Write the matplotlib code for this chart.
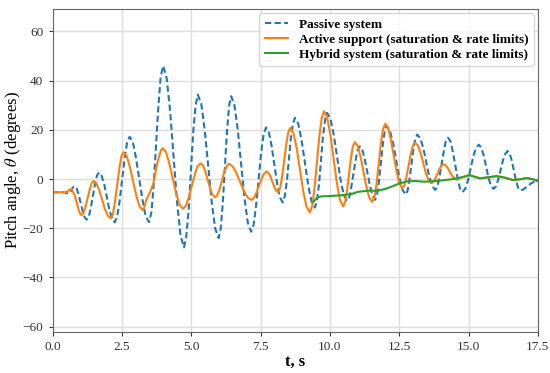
import matplotlib
matplotlib.use("Agg")
import matplotlib.pyplot as plt

plt.rcParams['font.family'] = ['Liberation Serif', 'DejaVu Serif']
plt.rcParams['mathtext.fontset'] = 'stix'

# passive system
t_passive = [0.00, 0.45, 0.57, 0.65, 0.72, 0.76, 0.80, 0.87, 0.94, 1.09, 1.16, 1.23,
             1.31, 1.38, 1.53, 1.60, 1.68, 1.77, 1.87, 2.05, 2.15, 2.24, 2.33, 2.42,
             2.60, 2.69, 2.78, 2.90, 3.01, 3.25, 3.36, 3.48, 3.57, 3.65, 3.82, 3.90,
             3.99, 4.115, 4.24, 4.49, 4.615, 4.74, 4.82, 4.91, 5.07, 5.16, 5.24, 5.365,
             5.49, 5.74, 5.865, 5.99, 6.065, 6.14, 6.29, 6.365, 6.44, 6.56, 6.68, 6.92,
             7.04, 7.16, 7.25, 7.34, 7.52, 7.61, 7.70, 7.80, 7.90, 8.10, 8.20, 8.30,
             8.37, 8.45, 8.59, 8.67, 8.74, 8.86, 8.98, 9.22, 9.34, 9.46, 9.53, 9.61,
             9.75, 9.83, 9.90, 10.02, 10.14, 10.38, 10.50, 10.62, 10.70, 10.77, 10.93, 11.00,
             11.08, 11.17, 11.26, 11.45, 11.54, 11.63, 11.70, 11.77, 11.91, 11.98, 12.05, 12.16,
             12.28, 12.50, 12.62, 12.73, 12.80, 12.87, 13.01, 13.08, 13.15, 13.26, 13.37, 13.58,
             13.69, 13.80, 13.88, 13.95, 14.11, 14.18, 14.26, 14.35, 14.43, 14.61, 14.69, 14.78,
             14.88, 14.98, 15.17, 15.27, 15.37, 15.46, 15.55, 15.72, 15.81, 15.90, 15.985, 16.07,
             16.24, 16.33, 16.41, 16.485, 16.56, 16.71, 16.785, 16.86, 16.96, 17.05, 17.25, 17.50]
y_passive = [-5.4, -5.4, -6.0, -5.2, -3.7, -3.1, -2.9, -3.8, -6.3, -13.1, -15.6, -16.5,
             -15.2, -11.7, -2.1, 1.4, 2.7, 1.3, -2.4, -12.5, -16.2, -17.6, -15.3, -8.9,
             8.5, 14.9, 17.2, 14.9, 8.5, -8.8, -15.2, -17.5, -13.3, -1.6, 30.1, 41.7,
             46.0, 41.1, 27.6, -9.4, -22.9, -27.8, -23.6, -12.3, 18.8, 30.1, 34.3, 30.4,
             19.7, -9.4, -20.1, -24.0, -20.1, -9.6, 19.3, 29.8, 33.7, 30.0, 19.9, -7.6,
             -17.7, -21.4, -18.6, -10.8, 10.4, 18.2, 21.0, 19.0, 13.4, -1.9, -7.5, -9.5,
             -7.2, -0.9, 16.3, 22.6, 24.9, 22.5, 15.8, -2.5, -9.2, -11.6, -9.0, -2.0,
             17.3, 24.3, 26.9, 24.5, 18.0, 0.0, -6.5, -8.9, -7.4, -3.4, 7.8, 11.8,
             13.3, 11.9, 7.9, -3.0, -6.9, -8.4, -6.4, -0.9, 14.2, 19.7, 21.7, 19.8,
             14.7, 0.7, -4.4, -6.3, -4.7, -0.2, 12.0, 16.5, 18.1, 16.6, 12.5, 1.2,
             -2.9, -4.4, -3.0, 0.9, 11.5, 15.4, 16.8, 15.3, 11.3, 0.2, -3.8, -5.3,
             -4.0, -0.5, 9.2, 12.7, 14.0, 12.8, 9.5, 0.5, -2.8, -4.0, -3.0, -0.2,
             7.6, 10.4, 11.4, 10.3, 7.4, -0.6, -3.5, -4.6, -4.3, -3.6, -1.8, -0.2]

# active support (saturation & rate limits)
t_active = [0.00, 0.50, 0.59, 0.68, 0.80, 0.93, 0.99, 1.05, 1.12, 1.19, 1.34, 1.41,
            1.48, 1.58, 1.69, 1.89, 2.00, 2.10, 2.18, 2.25, 2.41, 2.48, 2.56, 2.675,
            2.79, 3.02, 3.135, 3.25, 3.30, 3.38, 3.51, 3.63, 3.78, 3.90, 3.97, 4.09,
            4.21, 4.46, 4.58, 4.70, 4.81, 4.91, 5.13, 5.23, 5.34, 5.43, 5.51, 5.69,
            5.77, 5.86, 5.94, 6.03, 6.19, 6.28, 6.36, 6.495, 6.63, 6.90, 7.035, 7.17,
            7.26, 7.35, 7.54, 7.63, 7.72, 7.79, 7.86, 8.00, 8.07, 8.14, 8.21, 8.28,
            8.43, 8.50, 8.57, 8.69, 8.81, 9.04, 9.16, 9.28, 9.365, 9.45, 9.62, 9.705,
            9.79, 9.905, 10.02, 10.25, 10.365, 10.48, 10.55, 10.62, 10.76, 10.83, 10.90, 11.005,
            11.11, 11.32, 11.425, 11.53, 11.61, 11.69, 11.84, 11.92, 12.00, 12.10, 12.20, 12.41,
            12.51, 12.61, 12.69, 12.76, 12.92, 12.99, 13.07, 13.17, 13.27, 13.46, 13.56, 13.66,
            13.73, 13.81, 13.95, 14.03, 14.10, 14.175, 14.25, 14.40, 14.55, 14.85, 15.03, 15.2,
            15.41, 15.7, 16.01, 16.3, 16.61, 16.85, 17.1, 17.3, 17.5]
y_active = [-5.4, -5.3, -4.5, -3.9, -6.6, -12.0, -14.0, -14.7, -13.8, -11.2, -4.3, -1.7,
            -0.8, -1.8, -4.6, -12.2, -15.0, -16.0, -14.2, -9.3, 4.2, 9.1, 10.9, 9.3,
            5.0, -6.7, -11.0, -12.6, -11.8, -8.5, -5.5, -2.0, 6.5, 11.4, 12.6, 11.0,
            6.4, -5.9, -10.4, -12.1, -10.9, -7.5, 1.8, 5.2, 6.4, 5.5, 3.0, -4.0,
            -6.5, -7.4, -6.5, -4.0, 2.8, 5.3, 6.2, 5.2, 2.5, -4.8, -7.5, -8.5,
            -7.7, -5.6, 0.2, 2.3, 3.1, 2.5, 1.0, -3.3, -4.8, -5.4, -3.6, 1.2,
            14.3, 19.0, 20.8, 18.5, 12.2, -5.0, -11.3, -13.6, -10.8, -3.3, 17.3, 24.8,
            27.6, 25.0, 17.9, -1.4, -8.5, -11.1, -9.3, -4.6, 8.5, 13.3, 15.0, 13.4,
            8.9, -3.2, -7.7, -9.3, -7.2, -1.4, 14.6, 20.4, 22.5, 20.7, 15.9, 2.9,
            -1.9, -3.7, -2.5, 0.9, 10.2, 13.6, 14.8, 13.7, 10.7, 2.5, -0.5, -1.6,
            -1.1, 0.3, 4.1, 5.5, 6.0, 5.6, 4.5, 1.4, -0.2, 1.0, 1.6, 1.0,
            0.3, 0.7, 1.2, 0.6, -0.4, -0.1, 0.4, 0.0, -0.8]

# hybrid system (saturation & rate limits)
t_hybrid = [9.40, 9.55, 9.70, 10.0, 10.4, 10.8, 11.0, 11.4, 11.7, 12.0, 12.2, 12.5,
            12.8, 13.1, 13.4, 13.7, 14.0, 14.3, 14.6, 14.85, 15.03, 15.2, 15.41, 15.7,
            16.01, 16.3, 16.61, 16.85, 17.1, 17.3, 17.5]
y_hybrid = [-9.3, -7.5, -7.0, -6.9, -6.6, -6.0, -5.2, -4.7, -4.8, -4.0, -3.2, -1.8,
            -0.9, -0.8, -1.1, -0.9, -0.6, -0.2, 0.3, 1.0, 1.6, 1.0, 0.3, 0.7,
            1.2, 0.6, -0.4, -0.1, 0.4, 0.0, -0.8]

fig = plt.figure(figsize=(5.5, 3.73), dpi=100)
ax = fig.add_axes([0.0955, 0.111, 0.8825, 0.864])

ax.plot(t_passive, y_passive, '--', color='#1f77b4', lw=1.5, dashes=(3.0, 1.6),
        label='Passive system')
ax.plot(t_active, y_active, '-', color='#ff7f0e', lw=1.5,
        label='Active support (saturation & rate limits)')
ax.plot(t_hybrid, y_hybrid, '-', color='#2ca02c', lw=1.5,
        label='Hybrid system (saturation & rate limits)')

ax.set_xlim(0, 17.5)
ax.set_ylim(-62, 69)
ax.set_xticks([0, 2.5, 5, 7.5, 10, 12.5, 15, 17.5])
ax.set_xticklabels(['0.0', '2.5', '5.0', '7.5', '10.0', '12.5', '15.0', '17.5'])
ax.set_yticks([-60, -40, -20, 0, 20, 40, 60])
ax.tick_params(labelsize=9.5, colors='#333333', length=3)
ax.grid(color='#dddddd', lw=1)
for s in ax.spines.values():
    s.set_color('#666666')

ax.set_xlabel('t, s', fontsize=12, fontweight='bold', labelpad=1)
ax.set_ylabel(r'Pitch angle, $\theta$ (degrees)', fontsize=12, labelpad=0)

leg = ax.legend(loc='upper right', prop={'size': 9.5, 'weight': 'bold'},
                borderaxespad=0.3, handlelength=1.8, labelspacing=0.2)
leg.get_frame().set_edgecolor('#cccccc')

fig.savefig('out.png', dpi=100)
